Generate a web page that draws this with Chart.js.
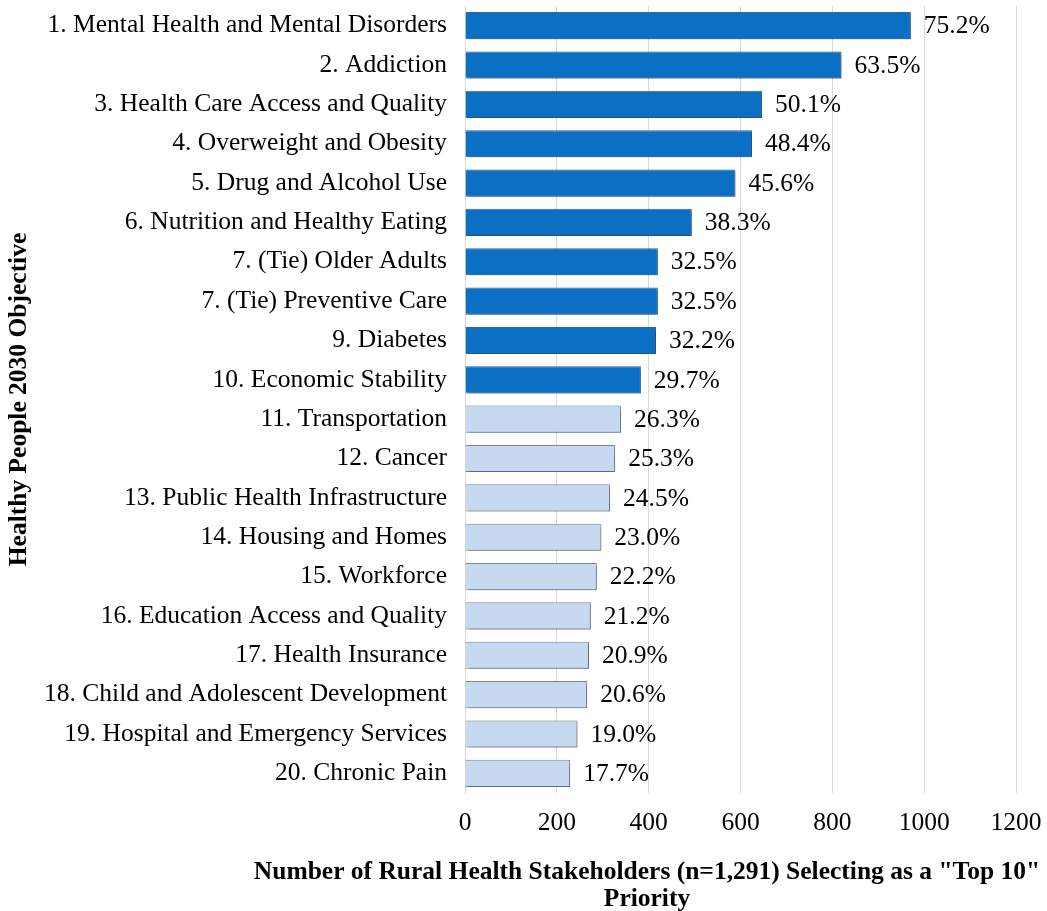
<!DOCTYPE html>
<html><head><meta charset="utf-8">
<script src="https://cdn.jsdelivr.net/npm/chart.js@4.4.1/dist/chart.umd.min.js"></script>
<style>html,body{margin:0;padding:0;background:#fff;}</style>
</head><body>
<canvas id="c" width="1047" height="911"></canvas>
<script>
const categories = [
  '1. Mental Health and Mental Disorders',
  '2. Addiction',
  '3. Health Care Access and Quality',
  '4. Overweight and Obesity',
  '5. Drug and Alcohol Use',
  '6. Nutrition and Healthy Eating',
  '7. (Tie) Older Adults',
  '7. (Tie) Preventive Care',
  '9. Diabetes',
  '10. Economic Stability',
  '11. Transportation',
  '12. Cancer',
  '13. Public Health Infrastructure',
  '14. Housing and Homes',
  '15. Workforce',
  '16. Education Access and Quality',
  '17. Health Insurance',
  '18. Child and Adolescent Development',
  '19. Hospital and Emergency Services',
  '20. Chronic Pain'
];
const counts = [971, 820, 647, 625, 589, 494, 420, 420, 416, 383, 340, 327, 316, 297, 287, 274, 270, 266, 245, 229];
const pctLabels = ['75.2%','63.5%','50.1%','48.4%','45.6%','38.3%','32.5%','32.5%','32.2%','29.7%','26.3%','25.3%','24.5%','23.0%','22.2%','21.2%','20.9%','20.6%','19.0%','17.7%'];
const xTickValues = [0, 200, 400, 600, 800, 1000, 1200];
const xTickLabels = ['0', '200', '400', '600', '800', '1000', '1200'];
const topTierCount = 10;
const xTitleLines = ['Number of Rural Health Stakeholders (n=1,291) Selecting as a "Top 10"', 'Priority'];
const yTitleText = 'Healthy People 2030 Objective';

const FONT = "'Liberation Serif', 'Times New Roman', serif";
const DARK = '#0B6FC3';
const LIGHT = '#C6D9F0';

const shadowAndLabels = {
  id: 'shadowAndLabels',
  beforeDatasetsDraw(chart) {
    const ctx = chart.ctx;
    ctx.save();
    ctx.shadowColor = 'rgba(0,0,0,0.35)';
    ctx.shadowBlur = 3;
    ctx.shadowOffsetX = 2;
    ctx.shadowOffsetY = 2;
  },
  afterDatasetsDraw(chart) {
    const ctx = chart.ctx;
    ctx.restore();
    const meta = chart.getDatasetMeta(0);
    ctx.save();
    ctx.font = '25.5px ' + FONT;
    ctx.fillStyle = '#000';
    ctx.textAlign = 'left';
    ctx.textBaseline = 'middle';
    meta.data.forEach((bar, i) => {
      ctx.fillText(pctLabels[i], bar.x + 13, bar.y + 1);
    });
    ctx.restore();
  }
};

const xTitlePlugin = {
  id: 'xTitlePlugin',
  afterDraw(chart) {
    const ctx = chart.ctx;
    ctx.save();
    ctx.font = 'bold 25.5px ' + FONT;
    ctx.fillStyle = '#000';
    ctx.textAlign = 'center';
    ctx.textBaseline = 'middle';
    ctx.fillText(xTitleLines[0], 647, 872);
    ctx.fillText(xTitleLines[1], 647, 899);
    ctx.restore();
  }
};

new Chart(document.getElementById('c'), {
  type: 'bar',
  data: {
    labels: categories,
    datasets: [{
      data: counts,
      backgroundColor: c => c.dataIndex < topTierCount ? DARK : LIGHT,
      borderColor: c => c.dataIndex < topTierCount ? '#2A6AA8' : '#7E8896',
      borderWidth: 1,
      barPercentage: 0.69,
      categoryPercentage: 1
    }]
  },
  options: {
    indexAxis: 'y',
    responsive: false,
    animation: false,
    devicePixelRatio: 1,
    layout: { padding: { top: 6, right: 31, bottom: 73, left: 0 } },
    plugins: { legend: { display: false }, tooltip: { enabled: false } },
    scales: {
      x: {
        min: 0, max: 1200,
        afterBuildTicks: s => { s.ticks = xTickValues.map(v => ({ value: v })); },
        grid: { color: '#d9d9d9', lineWidth: 1, drawTicks: false },
        border: { display: false },
        ticks: {
          color: '#000', font: { family: FONT, size: 25.5 }, padding: 15, maxRotation: 0,
          callback: (v) => xTickLabels[xTickValues.indexOf(v)]
        },
        afterFit: s => { s.height = 45; s.paddingLeft = 0; s.paddingRight = 0; }
      },
      y: {
        grid: { display: false, drawTicks: false },
        border: { display: true, color: '#d9d9d9' },
        ticks: { color: '#000', font: { family: FONT, size: 25.5 }, padding: 18, autoSkip: false },
        title: { display: true, text: yTitleText, color: '#000', font: { family: FONT, size: 25.5, weight: 'bold' }, padding: { top: 4, bottom: 0 } },
        afterFit: s => { s.width = 465; s.paddingTop = 0; s.paddingBottom = 0; }
      }
    }
  },
  plugins: [shadowAndLabels, xTitlePlugin]
});
</script>
</body></html>
